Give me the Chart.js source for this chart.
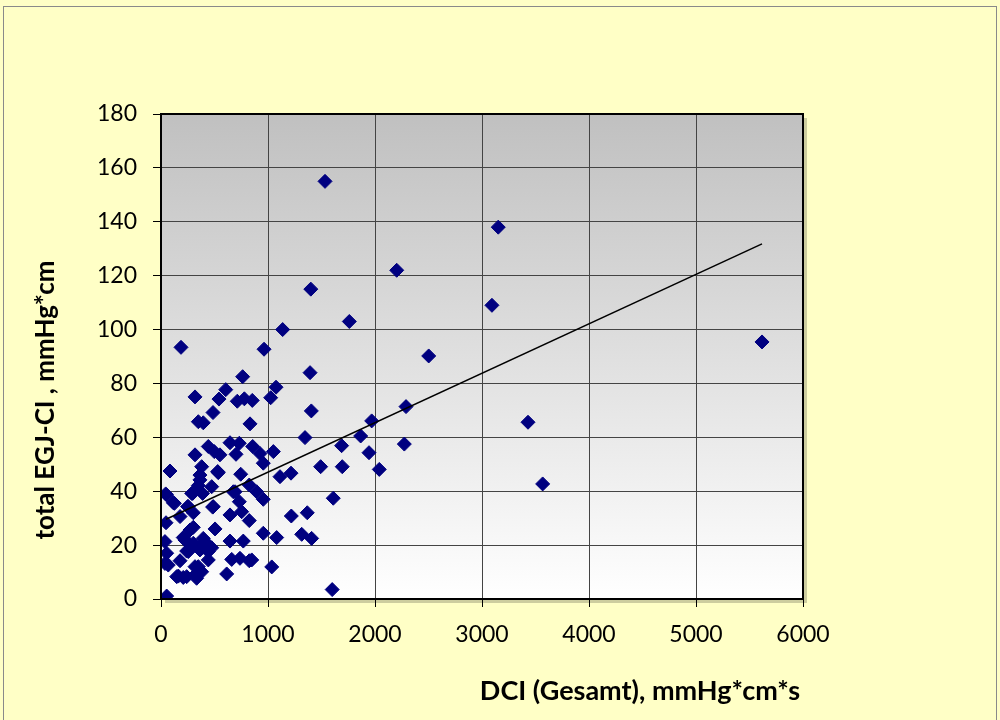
<!DOCTYPE html>
<html><head><meta charset="utf-8">
<script src="https://cdn.jsdelivr.net/npm/chart.js@4.4.1/dist/chart.umd.min.js"></script>
<style>html,body{margin:0;padding:0;background:#FFFFC6;}#wrap{width:1000px;height:720px;}</style>
</head><body><div id="wrap"><canvas id="c" width="1000" height="720"></canvas></div>
<script>
// DCI (Gesamt) values, mmHg*cm*s
const dciValues = [1533,3152,2203,1400,3093,1137,1760,2502,5617,187,963,1393,763,1075,605,318,542,713,779,853,1025,486,1405,349,395,832,1969,3430,2290,1346,1866,1688,2274,1944,1694,1492,2040,3567,1610,
442,645,732,857,498,701,551,318,925,1050,956,380,84,530,1112,1215,745,364,349,474,825,676,296,389,44,894,956,115,732,249,483,302,178,645,754,47,825,1218,1367,505,302,271,956,1081,1315,1408,208,395,645,769,37,302,474,240,53,364,661,738,825,442,178,37,318,1035,380,614,147,208,333,1600,53,
535,364,287,53,692,125,255,488,224,411,255,442,848,68,162,240,318,349];
// total EGJ-CI values, mmHg*cm
const egjValues = [155,138,122,115,109,100,103,90.2,95.4,93.4,92.7,84,82.5,78.6,77.7,75,74.2,73.4,74.3,73.7,74.7,69.2,69.8,65.8,65.4,65,66.1,65.6,71.4,59.9,60.5,56.9,57.5,54.3,49.1,49.1,48.1,42.7,37.4,
56.6,58,57.8,56.6,54.7,53.7,53.5,53.5,54,54.7,50.4,49.1,47.5,47.3,45.4,46.7,46.3,44.2,42.1,41.7,42.3,39.8,39.2,39.2,39,39.8,37,35.7,36.1,34.3,34.1,32,30.6,31.2,32.4,28.3,29.1,30.8,32,26,26.6,25.6,24.4,22.8,24,22.5,22.8,22.5,21.5,21.5,21.3,20.7,19,17.8,17,18.2,14.7,15.1,14.2,14.5,14.2,13.2,12,11.9,10.1,9.3,8.3,8,7.7,3.5,1.1,
46.9,46,39.2,38.6,39.8,35.5,34.3,34.3,21.9,21.3,17.6,17.6,14.5,12.6,8.5,8.3,8.9,12];
// trend line end points
const trendX = [47, 5617];
const trendY = [29.6, 131.8];
// axis ticks
const xTicks = [0,1000,2000,3000,4000,5000,6000];
const yTicks = [0,20,40,60,80,100,120,140,160,180];
const xTitle = "DCI (Gesamt), mmHg*cm*s";
const yTitle = "total EGJ-CI , mmHg*cm";

const pts = dciValues.map((x,i)=>({x:x,y:egjValues[i]}));
const trend = trendX.map((x,i)=>({x:x,y:trendY[i]}));

const FONT = "Lato, 'Open Sans', sans-serif";

const decor = {
  id:'decor',
  beforeDraw(chart){
    const ctx = chart.ctx, a = chart.chartArea;
    ctx.save();
    ctx.fillStyle = '#FFFFC6';
    ctx.fillRect(0,0,chart.width,chart.height);
    ctx.strokeStyle = '#8a8a8a'; ctx.lineWidth = 1;
    ctx.strokeRect(3.5,6.5,993,720);
    // shadow
    ctx.fillStyle = 'rgba(90,90,70,0.3)';
    ctx.fillRect(a.left+4, a.top+4, a.right-a.left, a.bottom-a.top);
    const g = ctx.createLinearGradient(0,a.top,0,a.bottom);
    g.addColorStop(0,'#C0C0C0');
    g.addColorStop(1,'#FFFFFF');
    ctx.fillStyle = g;
    ctx.fillRect(a.left,a.top,a.right-a.left,a.bottom-a.top);
    ctx.restore();
  },
  afterDraw(chart){
    const ctx = chart.ctx, a = chart.chartArea;
    ctx.save();
    ctx.strokeStyle = '#000'; ctx.lineWidth = 2;
    ctx.strokeRect(a.left,a.top,a.right-a.left,a.bottom-a.top);
    ctx.fillStyle = '#000';
    ctx.textAlign = 'center'; ctx.textBaseline = 'middle';
    ctx.font = "bold 27px " + FONT;
    ctx.fillText(xTitle, 640, 691);
    ctx.font = "bold 26px " + FONT;
    ctx.translate(46, 400);
    ctx.rotate(-Math.PI/2);
    ctx.fillText(yTitle, 0, 0);
    ctx.restore();
  }
};

new Chart(document.getElementById('c'), {
  type:'scatter',
  data:{datasets:[
    {data:pts, pointStyle:'rectRot', pointRadius:7, pointHoverRadius:7, backgroundColor:'#000080', borderColor:'#000080', borderWidth:1, order:1},
    {data:trend, showLine:true, pointRadius:0, borderColor:'#000', borderWidth:1.5, backgroundColor:'#000', order:0}
  ]},
  options:{
    responsive:false, animation:false, devicePixelRatio:1,
    layout:{padding:{left:0,right:197,top:114,bottom:0}},
    plugins:{legend:{display:false}, tooltip:{enabled:false}},
    scales:{
      x:{type:'linear', min:0, max:6000,
        afterBuildTicks(s){ s.ticks = xTicks.map(v=>({value:v})); },
        afterFit(s){ s.height = 121; },
        border:{display:false},
        grid:{color:'#444', borderDash:[2,1], lineWidth:1, tickLength:8, tickColor:'#000', tickBorderDash:[], drawTicks:true},
        ticks:{color:'#000', font:{family:FONT, size:23}, padding:14, maxRotation:0, callback:(v)=>String(v)}
      },
      y:{type:'linear', min:0, max:180,
        afterBuildTicks(s){ s.ticks = yTicks.map(v=>({value:v})); },
        afterFit(s){ s.width = 161; },
        border:{display:false},
        grid:{color:'#444', borderDash:[2,1], lineWidth:1, tickLength:8, tickColor:'#000', tickBorderDash:[], drawTicks:true},
        ticks:{color:'#000', font:{family:FONT, size:23}, padding:16, callback:(v)=>String(v)}
      }
    }
  },
  plugins:[decor]
});
</script></body></html>
